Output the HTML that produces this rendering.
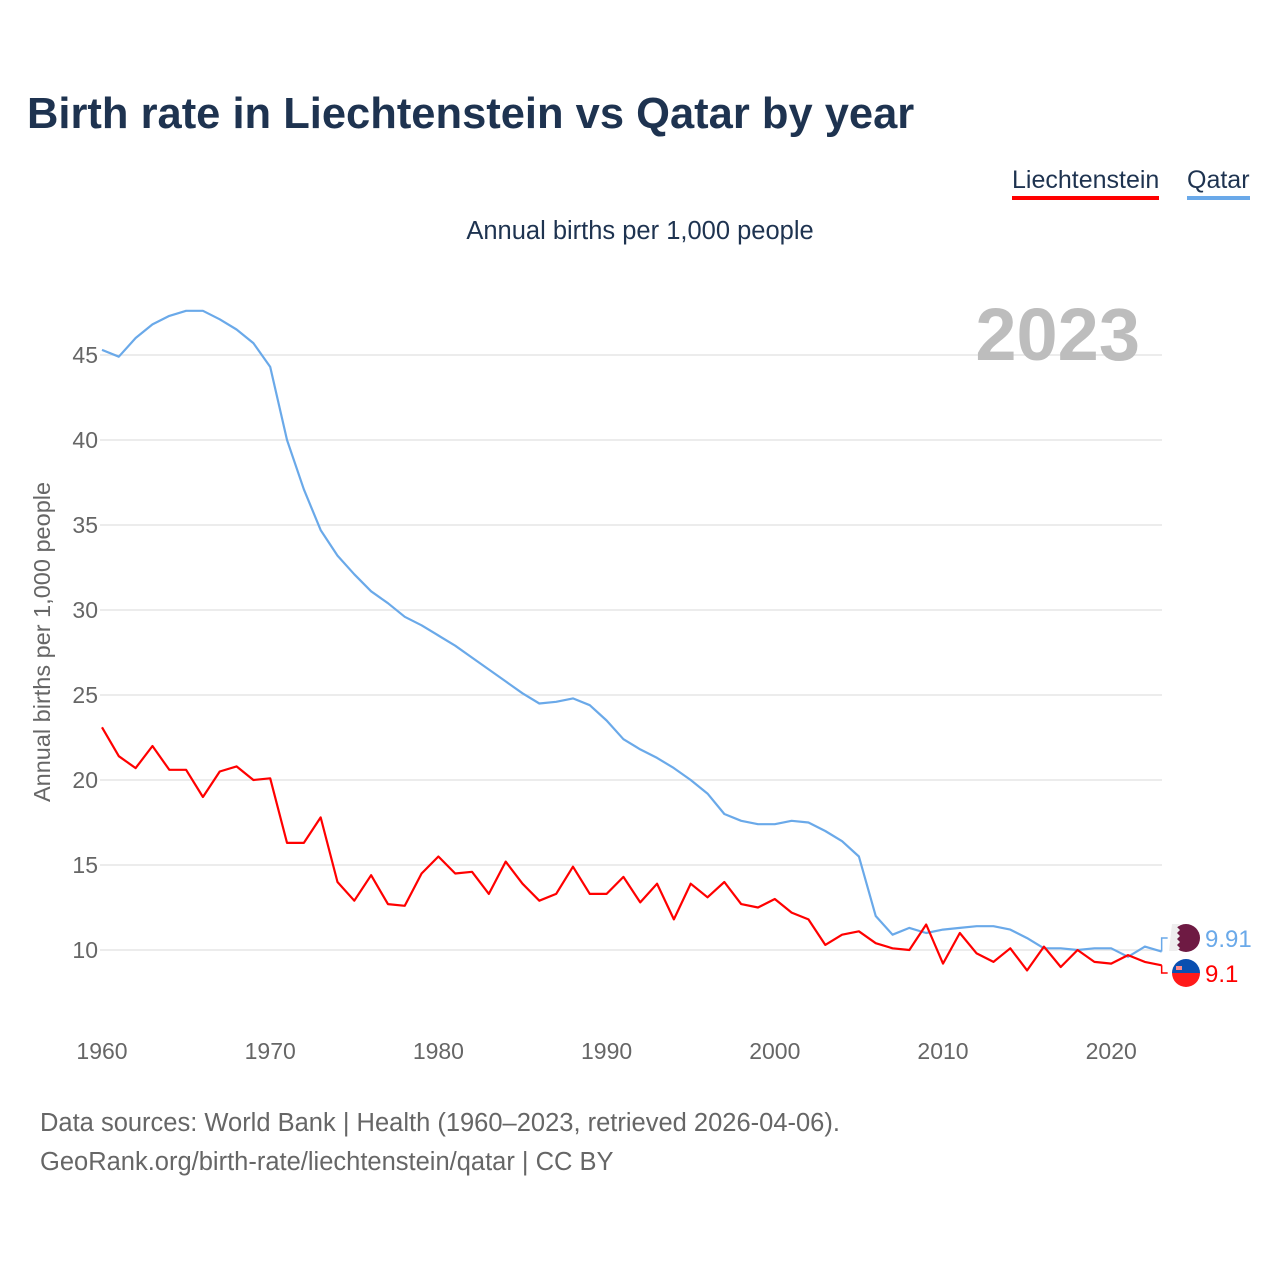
<!DOCTYPE html>
<html><head><meta charset="utf-8"><style>
body{margin:0;width:1280px;height:1280px;background:#fff;font-family:"Liberation Sans",sans-serif;position:relative;overflow:hidden}
.t{position:absolute;white-space:nowrap}
</style></head><body>
<div class="t" style="left:27px;top:90px;font-size:43.5px;font-weight:bold;color:#1e3350">Birth rate in Liechtenstein vs Qatar by year</div>
<div class="t" style="left:1012px;top:166px;font-size:25px;color:#1e3350;border-bottom:4px solid #ff0000;padding-bottom:1px">Liechtenstein</div>
<div class="t" style="left:1187px;top:166px;font-size:25px;color:#1e3350;border-bottom:4px solid #6aa9e9;padding-bottom:1px">Qatar</div>
<div class="t" style="left:0;width:1280px;text-align:center;top:217px;font-size:25.5px;color:#1e3350">Annual births per 1,000 people</div>
<div class="t" style="left:40px;top:1104px;font-size:25.5px;color:#666;line-height:39px">Data sources: World Bank | Health (1960–2023, retrieved 2026-04-06).<br>GeoRank.org/birth-rate/liechtenstein/qatar | CC BY</div>
<svg id="chart" width="1280" height="1280" style="position:absolute;left:0;top:0"></svg>
<script>
const years=[];for(let y=1960;y<=2023;y++)years.push(y);
const qatar=[45.3,44.9,46.0,46.8,47.3,47.6,47.6,47.1,46.5,45.7,44.3,40.0,37.1,34.7,33.2,32.1,31.1,30.4,29.6,29.1,28.5,27.9,27.2,26.5,25.8,25.1,24.5,24.6,24.8,24.4,23.5,22.4,21.8,21.3,20.7,20.0,19.2,18.0,17.6,17.4,17.4,17.6,17.5,17.0,16.4,15.5,12.0,10.9,11.3,11.0,11.2,11.3,11.4,11.4,11.2,10.7,10.1,10.1,10.0,10.1,10.1,9.6,10.2,9.91];
const liech=[23.1,21.4,20.7,22.0,20.6,20.6,19.0,20.5,20.8,20.0,20.1,16.3,16.3,17.8,14.0,12.9,14.4,12.7,12.6,14.5,15.5,14.5,14.6,13.3,15.2,13.9,12.9,13.3,14.9,13.3,13.3,14.3,12.8,13.9,11.8,13.9,13.1,14.0,12.7,12.5,13.0,12.2,11.8,10.3,10.9,11.1,10.4,10.1,10.0,11.5,9.2,11.0,9.8,9.3,10.1,8.8,10.2,9.0,10.0,9.3,9.2,9.7,9.3,9.1];
const yTicks=[10,15,20,25,30,35,40,45];
const xTicks=[1960,1970,1980,1990,2000,2010,2020];
const NS='http://www.w3.org/2000/svg';
const svg=document.getElementById('chart');
const X=y=>102+(y-1960)*16.82;
const Y=v=>950-(v-10)*17;
function el(tag,attrs,parent){const e=document.createElementNS(NS,tag);for(const k in attrs)e.setAttribute(k,attrs[k]);(parent||svg).appendChild(e);return e;}
yTicks.forEach(v=>{
  const l=el('line',{x1:100,x2:1162,y1:Y(v),y2:Y(v),stroke:'#e6e6e6','stroke-width':1.5});
  
  
  const t=el('text',{x:98,y:Y(v)+8,'text-anchor':'end','font-size':23,fill:'#666'});
  t.textContent=v;
  
  
});
xTicks.forEach(v=>{
  const t=el('text',{x:X(v),y:1059,'text-anchor':'middle','font-size':23,fill:'#666'});
  t.textContent=v;
  
  
});
const yt=el('text',{transform:'translate(50,642) rotate(-90)','text-anchor':'middle','font-size':23.5,fill:'#666'});
yt.textContent='Annual births per 1,000 people';


const yr=el('text',{x:1140,y:360,'text-anchor':'end','font-size':74,'font-weight':'bold',fill:'#bdbdbd'});
yr.textContent='2023';


function line(data,color,name){
  const p=el('polyline',{points:data.map((v,i)=>X(years[i])+','+Y(v)).join(' '),fill:'none',stroke:color,'stroke-width':2.2,'stroke-linejoin':'round'});
  
  
}
line(qatar,'#6aa9e9','qatar-line');
line(liech,'#ff0000','liechtenstein-line');
const ex=X(2023);
const qy=Y(qatar[qatar.length-1]), ly=Y(liech[liech.length-1]);
const qly=938, lly=973;
el('polyline',{points:`${ex},${qy} ${ex},${qly} ${ex+6},${qly}`,fill:'none',stroke:'#6aa9e9','stroke-width':1.5});
el('polyline',{points:`${ex},${ly} ${ex},${lly} ${ex+6},${lly}`,fill:'none',stroke:'#ff0000','stroke-width':1.5});
const qf=el('g',{});


el('circle',{cx:1186,cy:qly,r:14,fill:'#6e1a43'},qf);
el('path',{d:`M1172,${qly-14} h8 l-3,3 l3,3 l-3,3 l3,3 l-3,3 l3,3 l-3,3 l3,3 l-3,3 h-8z`,fill:'#eee'},qf);
const lf=el('g',{});


el('path',{d:`M1172,${lly} a14,14 0 0 1 28,0z`,fill:'#0a4fb0'},lf);
el('path',{d:`M1172,${lly} a14,14 0 0 0 28,0z`,fill:'#ff1a1a'},lf);
el('rect',{x:1176,y:lly-7,width:6,height:4,fill:'#f88'},lf);
const qv=el('text',{x:1205,y:qly+9,'font-size':24,fill:'#6aa9e9'});
qv.textContent=qatar[qatar.length-1];


const lv=el('text',{x:1205,y:lly+9,'font-size':24,fill:'#ff0000'});
lv.textContent=liech[liech.length-1];


</script>
</body></html>
